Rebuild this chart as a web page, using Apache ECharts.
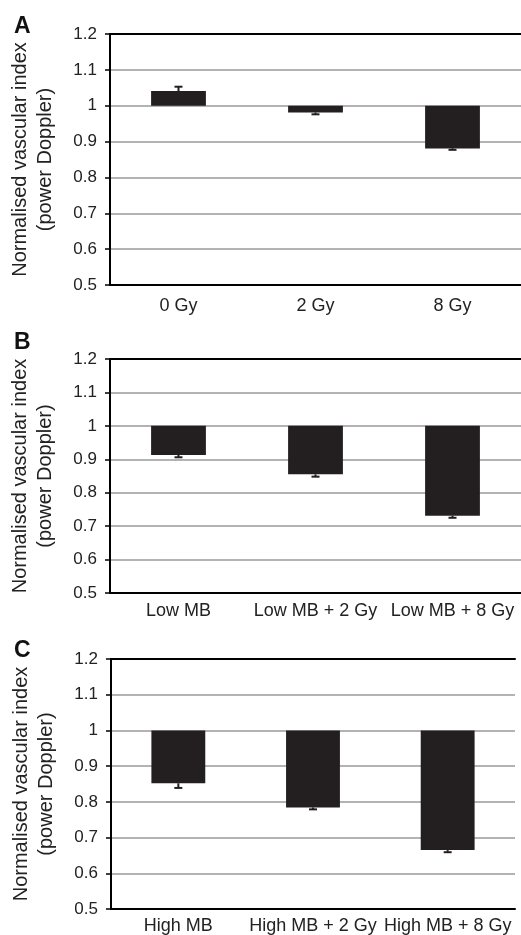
<!DOCTYPE html>
<html><head><meta charset="utf-8">
<script src="https://cdn.jsdelivr.net/npm/echarts/dist/echarts.min.js"></script>
<style>html,body{margin:0;padding:0;background:#fff}#c{width:521px;height:935px}</style>
</head><body><div id="c"></div>
<script>
// Panel A
const categoriesA = ['0 Gy', '2 Gy', '8 Gy'];
const valuesA = [1.041, 0.981, 0.881];
const errorTipsA = [1.053, 0.976, 0.877];
// Panel B
const categoriesB = ['Low MB', 'Low MB + 2 Gy', 'Low MB + 8 Gy'];
const valuesB = [0.913, 0.855, 0.731];
const errorTipsB = [0.906, 0.848, 0.725];
// Panel C
const categoriesC = ['High MB', 'High MB + 2 Gy', 'High MB + 8 Gy'];
const valuesC = [0.852, 0.784, 0.665];
const errorTipsC = [0.839, 0.779, 0.659];
// Axis
const yTicks = [0.5, 0.6, 0.7, 0.8, 0.9, 1, 1.1, 1.2];
const baseline = 1;
const panelLetters = ['A', 'B', 'C'];
const yAxisName = 'Normalised vascular index\n(power Doppler)';

const FONT = '"Liberation Sans", Arial, Helvetica, sans-serif';
const INK = '#231f20';

const grids = [
  {left: 110, top: 34, right: 0, height: 251},
  {left: 110, top: 359, right: 0, height: 234},
  {left: 111, top: 659, right: 6, height: 250}
];
const letterY = [27, 343, 651];
const catMargin = [12, 9, 8];
const panels = [
  {cats: categoriesA, vals: valuesA, errs: errorTipsA},
  {cats: categoriesB, vals: valuesB, errs: errorTipsB},
  {cats: categoriesC, vals: valuesC, errs: errorTipsC}
];

function barItem(params, api) {
  const x = api.value(0), v = api.value(1);
  const p1 = api.coord([x, baseline]), p2 = api.coord([x, v]);
  const w = api.size([1, 0])[0] * 0.4;
  return {type: 'rect', shape: {x: p1[0] - w / 2, y: Math.min(p1[1], p2[1]), width: w, height: Math.abs(p2[1] - p1[1])},
    style: {fill: INK}};
}
function errItem(params, api) {
  const x = api.value(0), v = api.value(1), t = api.value(2);
  const p1 = api.coord([x, v]), p2 = api.coord([x, t]);
  const cw = 8;
  return {type: 'group', children: [
    {type: 'line', shape: {x1: p1[0], y1: p1[1], x2: p2[0], y2: p2[1]}, style: {stroke: INK, lineWidth: 2}},
    {type: 'line', shape: {x1: p2[0] - cw / 2, y1: p2[1], x2: p2[0] + cw / 2, y2: p2[1]}, style: {stroke: INK, lineWidth: 2}}
  ]};
}

const xAxis = [], yAxis = [], series = [];
panels.forEach((p, i) => {
  xAxis.push({type: 'category', gridIndex: i, data: p.cats, position: 'bottom',
    axisLine: {lineStyle: {color: '#000', width: 2}}, axisTick: {show: false},
    axisLabel: {color: '#222', fontSize: 18, fontFamily: FONT, margin: catMargin[i], interval: 0}});
  xAxis.push({type: 'category', gridIndex: i, data: p.cats, position: 'top',
    axisLine: {lineStyle: {color: '#000', width: 2}}, axisTick: {show: false}, axisLabel: {show: false}});
  yAxis.push({type: 'value', gridIndex: i, min: yTicks[0], max: yTicks[yTicks.length - 1], interval: 0.1,
    axisLine: {show: true, lineStyle: {color: '#000', width: 2}},
    axisTick: {show: true, length: 5, lineStyle: {color: '#000', width: 1.5}},
    axisLabel: {color: '#222', fontSize: 17, fontFamily: FONT, margin: 13,
      formatter: v => String(Math.round(v * 10) / 10)},
    splitLine: {show: true, lineStyle: {color: '#9a9a9a', width: 1.5}},
    name: yAxisName, nameLocation: 'middle', nameGap: 52, nameRotate: 90,
    nameTextStyle: {color: '#222', fontSize: 20, fontFamily: FONT, lineHeight: 25}});
  series.push({type: 'custom', xAxisIndex: i * 2, yAxisIndex: i, renderItem: barItem,
    data: p.vals.map((v, k) => [k, v]), z: 3});
  series.push({type: 'custom', xAxisIndex: i * 2, yAxisIndex: i, renderItem: errItem,
    data: p.vals.map((v, k) => [k, v, p.errs[k]]), z: 4});
});

const chart = echarts.init(document.getElementById('c'), null, {renderer: 'canvas'});
chart.setOption({
  animation: false,
  backgroundColor: '#fff',
  grid: grids,
  xAxis: xAxis,
  yAxis: yAxis,
  series: series,
  graphic: panelLetters.map((L, i) => ({type: 'text', left: 14, top: letterY[i] - 12,
    style: {text: L, fontSize: 23, fontWeight: 'bold', fontFamily: FONT, fill: '#111'}}))
});
</script></body></html>
